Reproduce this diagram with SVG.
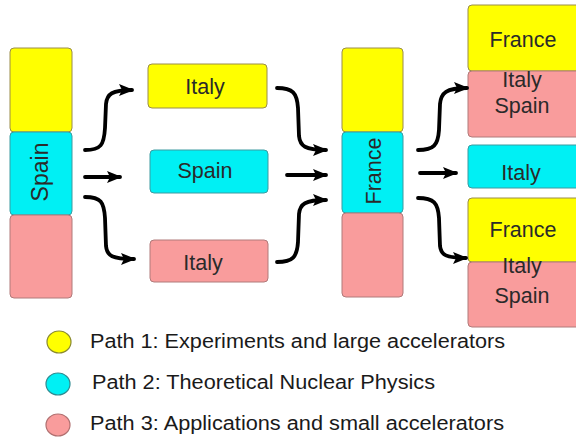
<svg xmlns="http://www.w3.org/2000/svg" width="576" height="441" viewBox="0 0 576 441">
<style>
.y{fill:#ffff00;stroke:#9a8c4a;stroke-width:1}
.c{fill:#00f0f4;stroke:#3d9aa0;stroke-width:1}
.p{fill:#f99c9c;stroke:#b07a7a;stroke-width:1}
.t{font-family:"Liberation Sans",Arial,sans-serif;font-size:21.5px;fill:#2a2a2a;text-anchor:middle}
.lg{font-family:"Liberation Sans",Arial,sans-serif;font-size:20px;fill:#1a1a1a}
.a{fill:none;stroke:#000;stroke-width:3.8;stroke-linecap:round;marker-end:url(#ah)}
</style>
<defs>
<marker id="ah" viewBox="0 0 15 12" refX="13" refY="6" markerWidth="15" markerHeight="12" markerUnits="userSpaceOnUse" orient="auto">
<path d="M0,0 L15,6 L0,12 L3,6 z" fill="#000"/>
</marker>
</defs>
<rect width="576" height="441" fill="#fff"/>

<g id="spain-col">
<rect class="y" x="10" y="48" width="62" height="84" rx="4"/>
<rect class="c" x="10" y="132" width="62" height="83" rx="4"/>
<rect class="p" x="10" y="215" width="62" height="83" rx="4"/>
<text class="t" style="font-size:23px" transform="translate(48,172) rotate(-90)">Spain</text>
</g>

<g id="italy-yellow">
<rect class="y" x="148" y="64" width="119" height="44" rx="4"/>
<text class="t" x="205" y="94">Italy</text>
</g>
<g id="spain-cyan">
<rect class="c" x="150" y="150" width="118" height="43" rx="4"/>
<text class="t" x="205" y="178">Spain</text>
</g>
<g id="italy-pink">
<rect class="p" x="150" y="240" width="118" height="42" rx="4"/>
<text class="t" x="203" y="270">Italy</text>
</g>

<g id="france-col">
<rect class="y" x="342" y="48" width="61" height="84" rx="4"/>
<rect class="c" x="342" y="132" width="61" height="81" rx="4"/>
<rect class="p" x="342" y="213" width="61" height="84" rx="4"/>
<text class="t" transform="translate(381,171) rotate(-90)">France</text>
</g>

<g id="right-top">
<rect class="y" x="468" y="5" width="112" height="66" rx="4"/>
<rect class="p" x="468" y="71" width="112" height="66" rx="4"/>
<text class="t" x="523" y="47">France</text>
<text class="t" x="522" y="87">Italy</text>
<text class="t" x="522" y="113">Spain</text>
</g>
<g id="right-mid">
<rect class="c" x="468" y="145" width="112" height="43" rx="4"/>
<text class="t" x="521" y="180">Italy</text>
</g>
<g id="right-bottom">
<rect class="y" x="468" y="198" width="112" height="64" rx="4"/>
<rect class="p" x="468" y="262" width="112" height="65" rx="4"/>
<text class="t" x="523" y="237">France</text>
<text class="t" x="522" y="273">Italy</text>
<text class="t" x="522" y="303">Spain</text>
</g>

<g id="connectors">
<path class="a" d="M85,150 C101,150 104,145 105,128 L106,104 C107,94 112,90 132,90"/>
<path class="a" d="M85,177 L120,177"/>
<path class="a" d="M85,197 C101,197 104,202 105,218 L106,246 C107,256 112,259 134,259"/>
<path class="a" d="M277,88 C293,88 297,93 298,108 L299,136 C300,146 305,150 326,150"/>
<path class="a" d="M287,175 L326,175"/>
<path class="a" d="M277,262 C293,262 297,257 298,242 L299,214 C300,204 305,200 326,200"/>
<path class="a" d="M418,150 C434,150 438,145 439,130 L440,104 C441,93 446,88 467,88"/>
<path class="a" d="M420,173 L456,173"/>
<path class="a" d="M418,198 C434,198 438,203 439,218 L440,246 C441,255 446,258 466,258"/>
</g>

<g id="legend">
<ellipse cx="59" cy="342" rx="12" ry="11" fill="#ffff00" stroke="#8a8a30" stroke-width="1.2"/>
<ellipse cx="58" cy="384" rx="12" ry="11" fill="#00f0f4" stroke="#2f8a90" stroke-width="1.2"/>
<ellipse cx="58" cy="425" rx="12" ry="11" fill="#f99c9c" stroke="#b07070" stroke-width="1.2"/>
<text class="lg" x="90" y="348" textLength="415" lengthAdjust="spacingAndGlyphs">Path 1: Experiments and large accelerators</text>
<text class="lg" x="92" y="389" textLength="343" lengthAdjust="spacingAndGlyphs">Path 2: Theoretical Nuclear Physics</text>
<text class="lg" x="90" y="430" textLength="414" lengthAdjust="spacingAndGlyphs">Path 3: Applications and small accelerators</text>
</g>
</svg>
